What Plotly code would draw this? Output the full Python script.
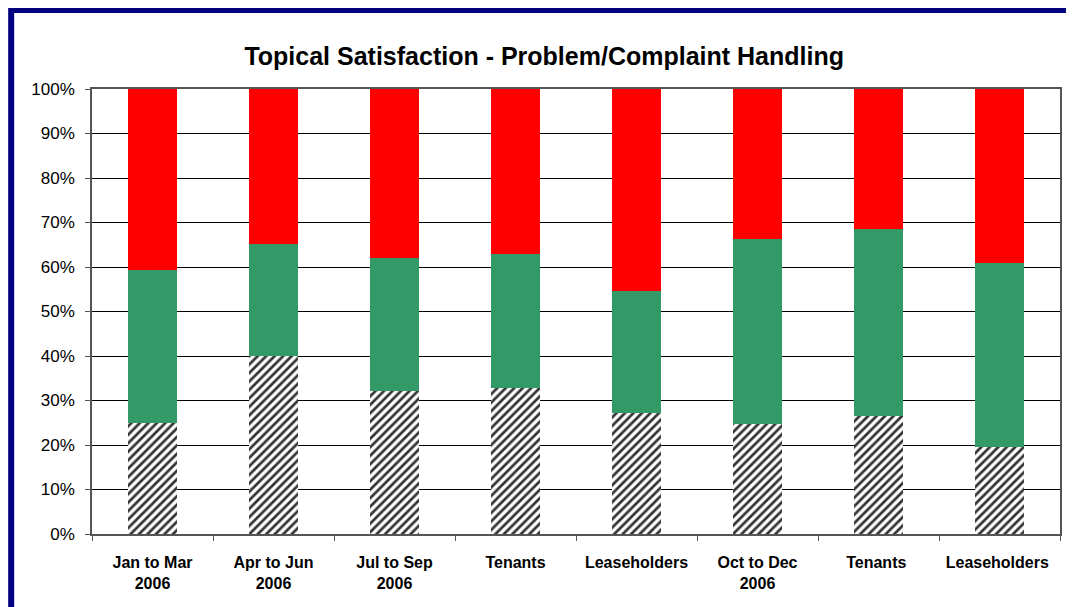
import plotly.graph_objects as go

# Data (percent of respondents)
categories = ['Jan to Mar<br>2006', 'Apr to Jun<br>2006', 'Jul to Sep<br>2006', 'Tenants',
              'Leaseholders', 'Oct to Dec<br>2006', 'Tenants ', 'Leaseholders ']
very_satisfied = [25.0, 40.0, 32.1, 32.8, 27.2, 24.7, 26.5, 19.6]
fairly_satisfied = [34.3, 25.2, 29.9, 30.1, 27.4, 41.6, 42.0, 41.3]
dissatisfied = [40.7, 34.8, 38.0, 37.1, 45.4, 33.7, 31.5, 39.1]

title = 'Topical Satisfaction - Problem/Complaint Handling'
navy = '#000080'

fig = go.Figure()
fig.add_trace(go.Bar(x=categories, y=very_satisfied, name='Very satisfied',
                     marker=dict(color='white', line=dict(width=0),
                                 pattern=dict(shape='/', fgcolor='#333333', bgcolor='white',
                                              fgopacity=1, size=6, solidity=0.45))))
fig.add_trace(go.Bar(x=categories, y=fairly_satisfied, name='Fairly satisfied',
                     marker=dict(color='#339966', line=dict(width=0))))
fig.add_trace(go.Bar(x=categories, y=dissatisfied, name='Dissatisfied',
                     marker=dict(color='#ff0000', line=dict(width=0))))

fig.update_layout(
    barmode='stack',
    bargap=0.6,
    width=1066, height=599,
    margin=dict(l=84, r=12, t=81, b=73),
    paper_bgcolor='white',
    plot_bgcolor='white',
    showlegend=False,
    font=dict(family='Liberation Sans, Arial, sans-serif', color='black'),
    title=dict(text='<b>' + title + '</b>', x=0.503, xanchor='center',
               y=0.92, yanchor='middle', font=dict(size=25, color='black')),
)

fig.update_yaxes(range=[0, 100], dtick=10, ticksuffix='%',
                 showgrid=True, gridcolor='black', gridwidth=1,
                 showline=True, linecolor='#555555', linewidth=1.5, mirror=True,
                 ticks='outside', ticklen=5, tickcolor='#555555', ticklabelstandoff=7,
                 tickfont=dict(size=17))
fig.update_xaxes(showline=True, linecolor='#555555', linewidth=1.5, mirror=True,
                 ticks='outside', ticklen=5, tickcolor='#555555', tickson='boundaries',
                 ticklabelstandoff=13,
                 tickfont=dict(size=16, weight='bold'))

# Navy frame around the chart
fig.add_shape(type='rect', xref='paper', yref='paper',
              x0=-0.0835, x1=1.0103, y0=-0.18, y1=1.1775,
              line=dict(color=navy, width=6), fillcolor='rgba(0,0,0,0)', layer='above')

fig.write_html('out.html')
